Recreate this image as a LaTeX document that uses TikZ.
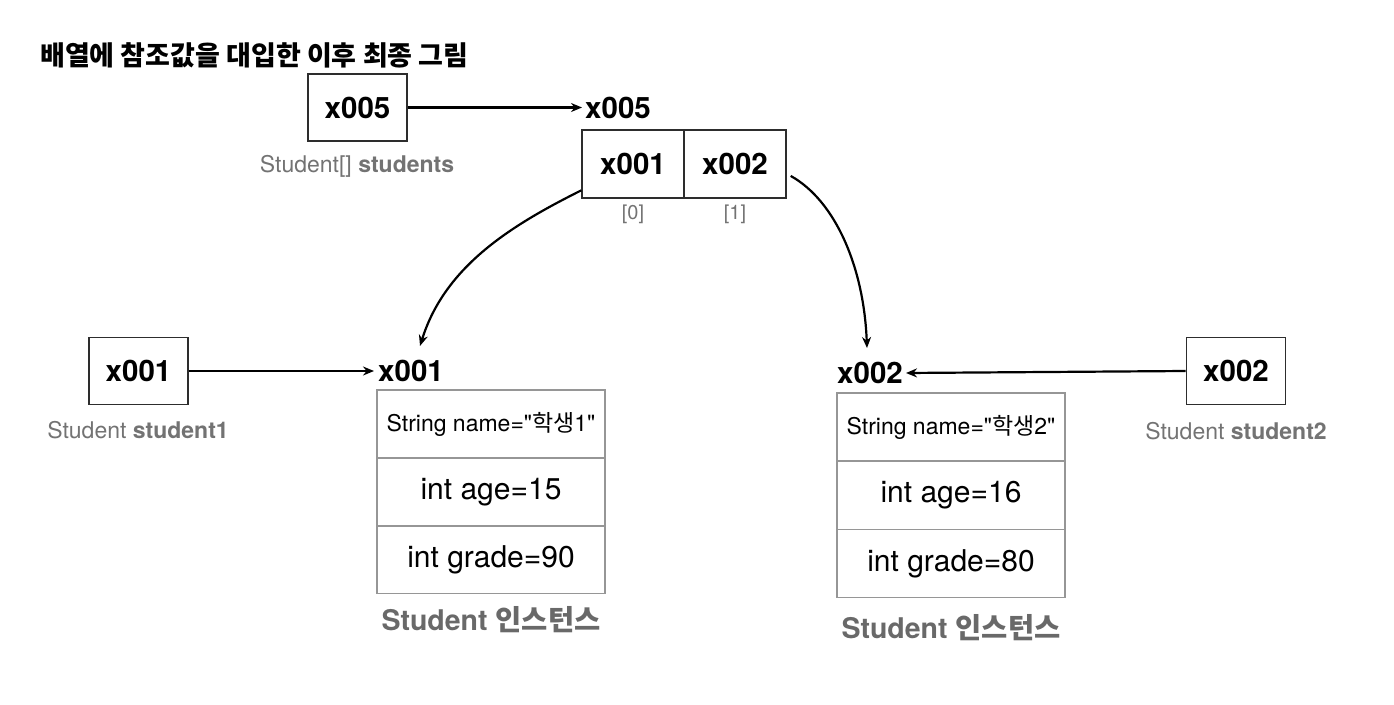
\documentclass[tikz,border=0pt]{standalone}
\usepackage{fontspec}
\setmainfont{TeX Gyre Heros}[Ligatures=TeXOff]
\newfontfamily\kr{Noto Sans CJK KR}
\usetikzlibrary{arrows.meta}
\definecolor{boxc}{RGB}{45,45,45}
\definecolor{tabc}{RGB}{150,150,150}
\definecolor{labc}{RGB}{115,115,115}
\definecolor{instc}{RGB}{105,105,105}
\newcommand\fs[1]{\fontsize{#1}{#1}\selectfont}
\begin{document}
\begin{tikzpicture}[x=1pt,y=-1pt,
  refbox/.style={draw=boxc,line width=1.6pt,minimum width=99pt,minimum height=67pt,inner sep=0pt,font=\fs{29.5}\bfseries},
  arrcell/.style={draw=boxc,line width=1.4pt,minimum width=102pt,minimum height=68pt,inner sep=0pt,font=\fs{29.5}\bfseries},
  reflab/.style={inner sep=0pt,font=\fs{29.5}\bfseries},
  varlab/.style={inner sep=0pt,text=labc,font=\fs{23}},
  idxlab/.style={inner sep=0pt,text=labc,font=\fs{20}},
  fieldcell/.style={draw=tabc,line width=1.2pt,minimum width=228pt,minimum height=68pt,inner sep=0pt,font=\fs{30}},
  namecell/.style={fieldcell,font=\fs{23}},
  instlab/.style={inner sep=0pt,text=instc,font=\fs{28.5}\bfseries},
  ptr/.style={-{Stealth[length=11pt,width=9pt]},line width=2.2pt,black}
]
\useasboundingbox (0,0) rectangle (1394,704);
% title
\node[anchor=west,inner sep=0pt,font=\kr\bfseries\fs{27}] (title) at (40,55) {배열에 참조값을 대입한 이후 최종 그림};
% students array reference
\node[refbox] (boxA) at (357.5,107.5) {x005};
\node[varlab] (labA) at (357,166) {Student[] \textbf{students}};
\node[reflab,anchor=west] (refA) at (585,107.5) {x005};
\draw[ptr] (boxA.east) -- ([xshift=-3pt]refA.west);
% array
\node[arrcell] (cell0) at (633,164) {x001};
\node[arrcell] (cell1) at (735,164) {x002};
\node[idxlab] (idx0) at (633,214) {[0]};
\node[idxlab] (idx1) at (735,214) {[1]};
% student1
\node[refbox] (box1) at (138.5,371) {x001};
\node[varlab] (lab1) at (138,430) {Student \textbf{student1}};
\node[reflab,anchor=west] (ref1) at (378,371) {x001};
\draw[ptr] (box1.east) -- ([xshift=-4pt]ref1.west);
% instance 1
\node[namecell] (n1) at (491,424) {String name="{\kr 학생}1"};
\node[fieldcell] (a1) at (491,492) {int age=15};
\node[fieldcell] (g1) at (491,559.5) {int grade=90};
\node[instlab] (inst1) at (491,620) {Student {\kr 인스턴스}};
% student2
\node[refbox] (box2) at (1236,371) {x002};
\node[varlab] (lab2) at (1236,431) {Student \textbf{student2}};
\node[reflab,anchor=east] (ref2) at (903,373) {x002};
\draw[ptr] (box2.west) -- ([xshift=3pt]ref2.east);
% instance 2
\node[namecell] (n2) at (951,427) {String name="{\kr 학생}2"};
\node[fieldcell] (a2) at (951,495.5) {int age=16};
\node[fieldcell] (g2) at (951,563.5) {int grade=80};
\node[instlab] (inst2) at (951,628) {Student {\kr 인스턴스}};
% curved pointers
\draw[ptr] (cell0.207) .. controls +(-70,35) and +(25,-80) .. ([xshift=9pt,yshift=14pt]ref1.north);
\draw[ptr] ([xshift=4pt]cell1.-13) .. controls +(45,25) and +(-3,-80) .. ([xshift=-3pt,yshift=14pt]ref2.north);
\end{tikzpicture}
\end{document}
